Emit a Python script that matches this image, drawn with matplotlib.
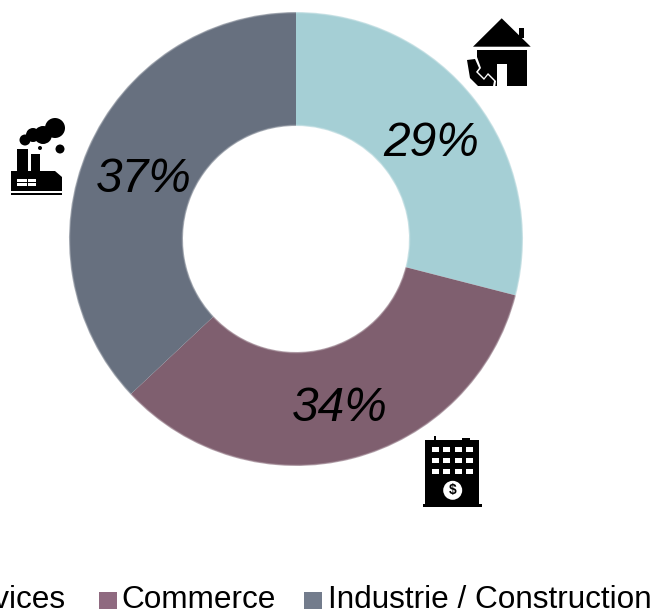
# donut chart with hand drawn icons
import matplotlib
matplotlib.use("Agg")
import matplotlib.pyplot as plt
from matplotlib.patches import Polygon, Rectangle, Circle

plt.rcParams["font.family"] = ["Liberation Sans", "DejaVu Sans"]

categories = ["Services", "Commerce", "Industrie / Construction"]
values = [29, 34, 37]
colors = ["#A5CFD5", "#7F5F6F", "#67707F"]
legend_colors = ["#A5CFD5", "#8F6A80", "#737C8C"]

H = 615

fig = plt.figure(figsize=(6.59, 6.15), dpi=100)
ax = fig.add_axes([0, 0, 1, 1])


# y of the reference picture (from the top) to axes y
def py(y):
    return H - y


def poly(pts, color="black", z=5):
    ax.add_patch(Polygon([(x, py(y)) for x, y in pts], closed=True, fc=color, ec="none", zorder=z))


def rect(x0, y0, x1, y1, color="black", z=5):
    ax.add_patch(Rectangle((x0, py(y1)), x1 - x0, y1 - y0, fc=color, ec="none", zorder=z))


def circ(x, y, r, color="black", z=5):
    ax.add_patch(Circle((x, py(y)), r, fc=color, ec="none", zorder=z))


# donut
wedges, texts, pcts = ax.pie(
    values, colors=colors, center=(296, py(239)), radius=227, startangle=90,
    counterclock=False, autopct="%1.0f%%", pctdistance=0.74,
    wedgeprops=dict(width=114, linewidth=0),
    textprops=dict(fontsize=34.5, style="italic", color="black"),
)
for t in pcts:
    x, y = t.get_position()
    t.set_position((x + 2, y - 7))
    t.set_zorder(4)

# soft edge of the ring
for r, lw, a in [(227, 2.0, 0.2), (227, 1.0, 0.3), (113, 2.0, 0.2), (113, 1.0, 0.3)]:
    ax.add_patch(Circle((296, py(239)), r, fc="none", ec="white", lw=lw, alpha=a, zorder=3))

ax.set_xlim(0, 659)
ax.set_ylim(0, 615)
ax.set_aspect("equal")
ax.axis("off")

# legend, "Services" runs off the left side
legend_text_x = [-55, 121.5, 328]
legend_box_x = [-80, 99, 304]
for i in range(3):
    rect(legend_box_x[i], 592, legend_box_x[i] + 17.5, 609, legend_colors[i])
    ax.text(legend_text_x[i], py(608), categories[i], fontsize=22.7, ha="left", va="baseline", color="black")

# house
poly([(501.7, 18.3), (530.7, 46.7), (473, 46.7)])
rect(519, 28, 523.5, 38)
rect(477, 50, 527, 86)
rect(497, 64, 507, 86, "white", 6)
poly([(465, 58), (477, 57), (481, 68), (478, 72), (484, 78), (488, 73), (496, 81), (495, 88),
      (477, 88), (468, 79)], "white", 6)
poly([(467, 60), (475, 59), (479, 68), (476, 72), (484, 80), (488, 75), (494, 81), (493, 86),
      (478, 86), (470, 78)], "black", 7)

# factory
rect(17, 149, 28, 172)
rect(31, 154, 40, 172)
poly([(11, 171), (55, 171), (62, 177), (62, 191), (11, 191)])
rect(11, 193, 62, 195)
rect(17, 179, 26.5, 182, "white", 6)
rect(27.5, 179, 36, 182, "white", 6)
rect(17, 183, 26.5, 186, "white", 6)
rect(27.5, 183, 36, 186, "white", 6)
circ(55, 128, 10)
circ(43, 135, 9)
circ(33, 135, 7)
circ(25, 140, 5.5)
circ(60, 149, 4.5)
circ(40, 148, 2)

# bank building
rect(425, 440, 479.3, 504)
rect(422.7, 504, 481.7, 506.7)
rect(434, 436, 436, 440)
rect(462, 438, 470, 440)
for wx in [431.7, 443.3, 454.7, 465.7]:
    for wy in [447.3, 458.3, 469.3]:
        rect(wx, wy, wx + 7, wy + 4.5, "white", 6)
circ(452.7, 490.3, 9.5, "white", 6)
ax.text(452.7, py(490.3), "$", fontsize=10, fontweight="bold", ha="center", va="center", color="black", zorder=7)

fig.savefig("out.png", dpi=100)
